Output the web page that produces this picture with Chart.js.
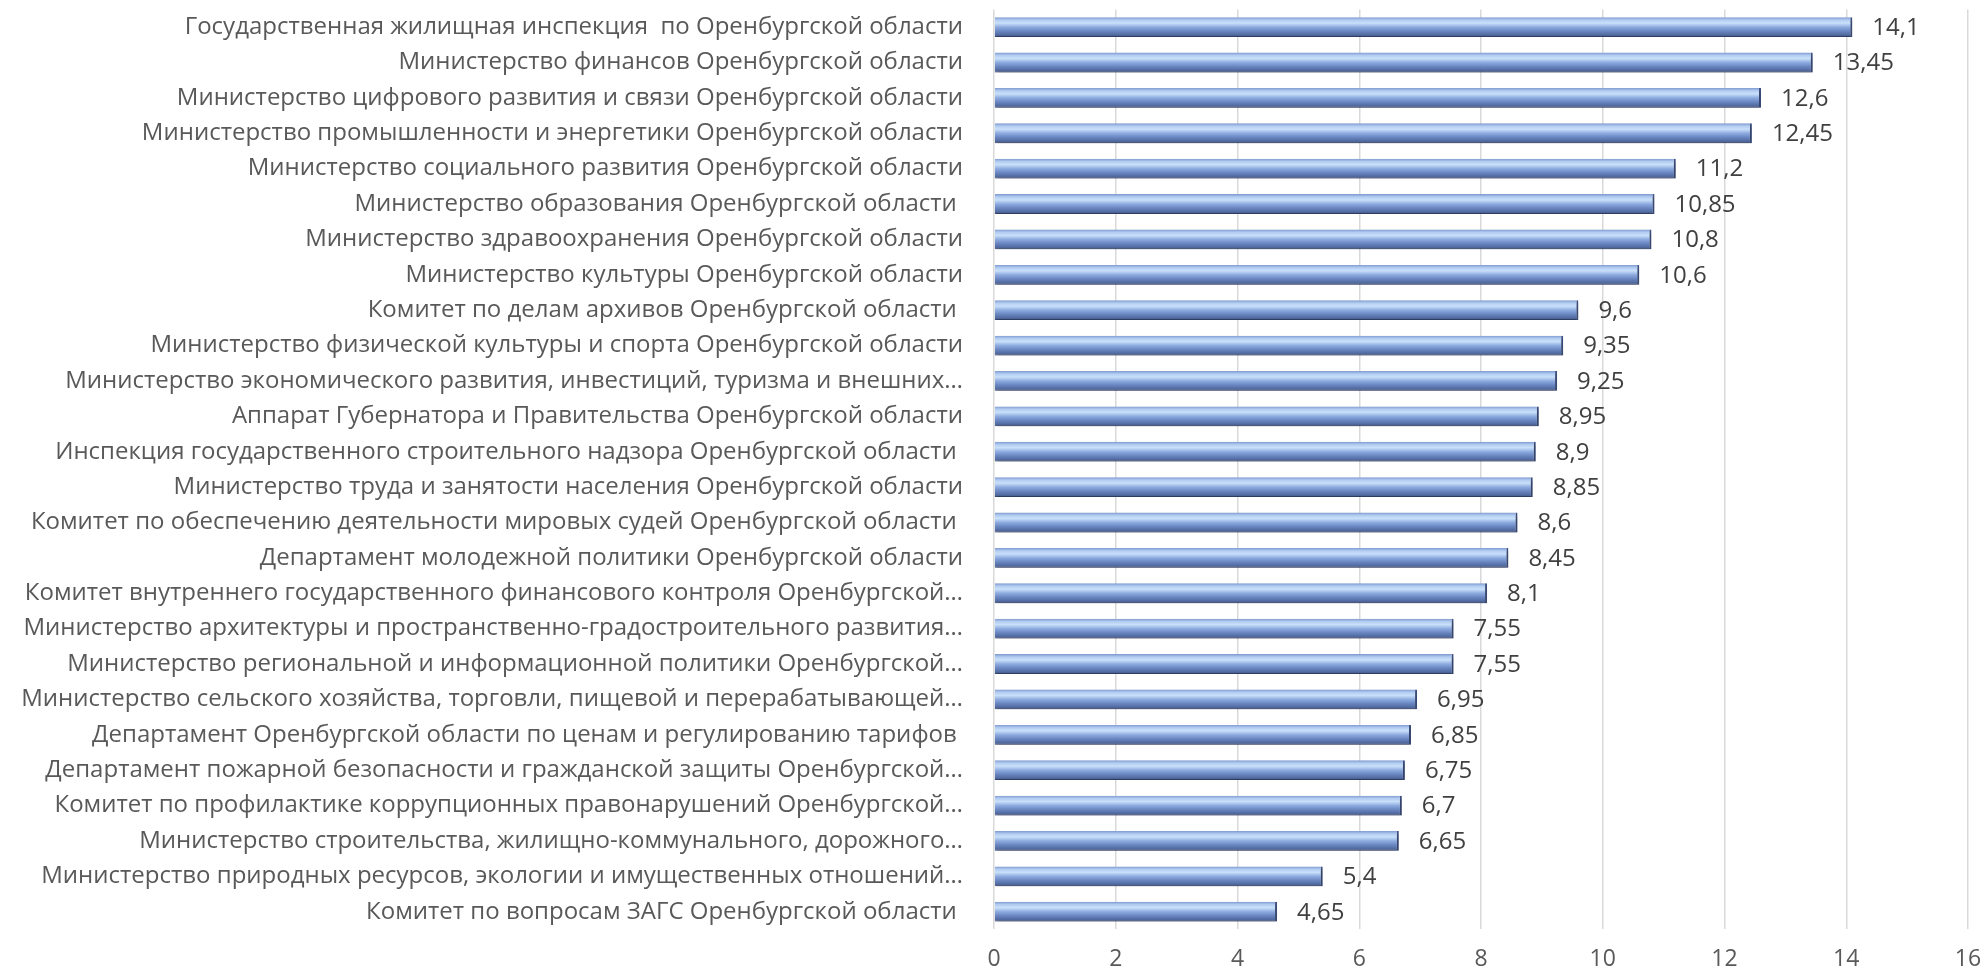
<!DOCTYPE html>
<html>
<head>
<meta charset="utf-8">
<script src="https://cdn.jsdelivr.net/npm/chart.js@4.4.1/dist/chart.umd.min.js"></script>
<style>
  html, body { margin: 0; padding: 0; background: #fff; }
  #wrap { width: 1988px; height: 973px; }
</style>
</head>
<body>
<div id="wrap"><canvas id="grafico"></canvas></div>
<script>
const categorias = [
    'Государственная жилищная инспекция  по Оренбургской области',
    'Министерство финансов Оренбургской области',
    'Министерство цифрового развития и связи Оренбургской области',
    'Министерство промышленности и энергетики Оренбургской области',
    'Министерство социального развития Оренбургской области',
    'Министерство образования Оренбургской области ',
    'Министерство здравоохранения Оренбургской области',
    'Министерство культуры Оренбургской области',
    'Комитет по делам архивов Оренбургской области ',
    'Министерство физической культуры и спорта Оренбургской области',
    'Министерство экономического развития, инвестиций, туризма и внешних…',
    'Аппарат Губернатора и Правительства Оренбургской области',
    'Инспекция государственного строительного надзора Оренбургской области ',
    'Министерство труда и занятости населения Оренбургской области',
    'Комитет по обеспечению деятельности мировых судей Оренбургской области ',
    'Департамент молодежной политики Оренбургской области',
    'Комитет внутреннего государственного финансового контроля Оренбургской…',
    'Министерство архитектуры и пространственно-градостроительного развития…',
    'Министерство региональной и информационной политики Оренбургской…',
    'Министерство сельского хозяйства, торговли, пищевой и перерабатывающей…',
    'Департамент Оренбургской области по ценам и регулированию тарифов ',
    'Департамент пожарной безопасности и гражданской защиты Оренбургской…',
    'Комитет по профилактике коррупционных правонарушений Оренбургской…',
    'Министерство строительства, жилищно-коммунального, дорожного…',
    'Министерство природных ресурсов, экологии и имущественных отношений…',
    'Комитет по вопросам ЗАГС Оренбургской области '
];
const valores = [14.1, 13.45, 12.6, 12.45, 11.2, 10.85, 10.8, 10.6, 9.6, 9.35, 9.25, 8.95, 8.9,
    8.85, 8.6, 8.45, 8.1, 7.55, 7.55, 6.95, 6.85, 6.75, 6.7, 6.65, 5.4, 4.65];
const ticksX = [0, 2, 4, 6, 8, 10, 12, 14, 16];

const GROSOR = 20;
const FUENTE = 'Open Sans';

// degradado "tubo" como en Excel
function colorBarra(context) {
    const chart = context.chart;
    if (!chart.chartArea) return '#8aa8de';
    const yc = chart.scales.y.getPixelForValue(context.dataIndex);
    const g = chart.ctx.createLinearGradient(0, yc - GROSOR / 2, 0, yc + GROSOR / 2);
    g.addColorStop(0, '#7d98cf');
    g.addColorStop(0.15, '#b3cdf2');
    g.addColorStop(0.3, '#c9e0fa');
    g.addColorStop(0.5, '#8eabe0');
    g.addColorStop(0.7, '#6a87c2');
    g.addColorStop(0.88, '#536ca2');
    g.addColorStop(1, '#3f5283');
    return g;
}

const sombra = {
    id: 'sombra',
    beforeDatasetsDraw(chart) {
        const ctx = chart.ctx;
        ctx.save();
        ctx.shadowColor = 'rgba(0,0,0,0.3)';
        ctx.shadowBlur = 4;
        ctx.shadowOffsetX = 1;
        ctx.shadowOffsetY = 3;
    },
    afterDatasetsDraw(chart) {
        chart.ctx.restore();
    }
};

const etiquetas = {
    id: 'etiquetas',
    afterDraw(chart) {
        const ctx = chart.ctx;
        ctx.save();
        ctx.font = `24px "${FUENTE}"`;
        ctx.fillStyle = '#404040';
        ctx.textAlign = 'left';
        ctx.textBaseline = 'middle';
        chart.getDatasetMeta(0).data.forEach((bar, i) => {
            ctx.fillText(String(valores[i]).replace('.', ','), bar.x + 20, bar.y + 1);
        });
        ctx.restore();
    }
};

new Chart(document.getElementById('grafico'), {
    type: 'bar',
    data: {
        labels: categorias,
        datasets: [{
            data: valores,
            backgroundColor: colorBarra,
            borderColor: '#3f5283',
            borderWidth: { top: 0, right: 2, bottom: 1, left: 0 },
            borderSkipped: 'start',
            barPercentage: 0.56,
            categoryPercentage: 1
        }]
    },
    options: {
        indexAxis: 'y',
        responsive: true,
        maintainAspectRatio: false,
        animation: false,
        devicePixelRatio: 1,
        layout: { padding: { top: 9, right: 20, bottom: 0, left: 0 } },
        plugins: {
            legend: { display: false },
            tooltip: { enabled: false }
        },
        scales: {
            x: {
                min: 0,
                max: 16,
                afterBuildTicks: s => { s.ticks = ticksX.map(v => ({ value: v })); },
                grid: { color: '#d9d9d9', lineWidth: 1.5, drawTicks: true, tickLength: 16, tickColor: 'transparent' },
                border: { display: false },
                ticks: {
                    padding: 0,
                    font: { family: FUENTE, size: 23 },
                    color: '#595959'
                }
            },
            y: {
                afterFit: s => { s.width = 994; },
                grid: { display: true, drawOnChartArea: false, drawTicks: true, tickLength: 36, tickColor: 'transparent' },
                border: { display: false },
                ticks: {
                    padding: -5,
                    autoSkip: false,
                    font: { family: FUENTE, size: 24 },
                    color: '#595959'
                }
            }
        }
    },
    plugins: [sombra, etiquetas]
});
</script>
</body>
</html>
